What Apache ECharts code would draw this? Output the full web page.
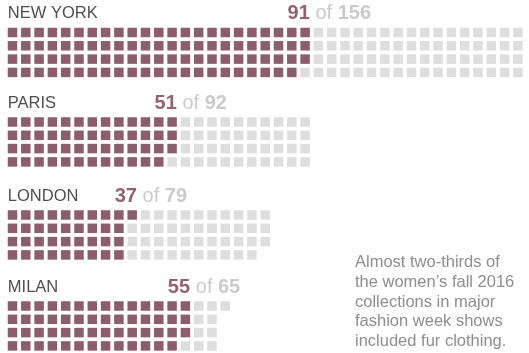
<!DOCTYPE html>
<html>
<head>
<meta charset="utf-8">
<script src="https://cdn.jsdelivr.net/npm/echarts@6/dist/echarts.min.js"></script>
<style>
  html, body { margin: 0; padding: 0; background: #fff; }
  #main { width: 529px; height: 353px; }
</style>
</head>
<body>
<div id="main"></div>
<script>
// data
var cities = ['NEW YORK', 'PARIS', 'LONDON', 'MILAN'];
var withFur = [91, 51, 37, 55];
var totals = [156, 92, 79, 65];
var note = ['Almost two-thirds of', 'the women\u2019s fall 2016', 'collections in major', 'fashion week shows', 'included fur clothing.'];

// layout
var P = 13.3;      // square pitch
var S = 9.5;       // square size
var ROWS = 4;
var row0 = [32.5, 122, 215, 306];   // centre of first row of each block
var font = 'Liberation Sans, Arial, Helvetica, sans-serif';

var dark = '#6f3646';
var light = '#d6d6d6';

var myChart = echarts.init(document.getElementById('main'));

var grids = [], xAxes = [], yAxes = [], series = [];

cities.forEach(function (city, k) {
  var yMin = -2, yMax = 3.5;
  grids.push({
    left: 12.5 - P / 2,
    top: row0[k] - (0 - yMin) * P,
    width: 39 * P,
    height: (yMax - yMin) * P
  });
  xAxes.push({ type: 'value', gridIndex: k, min: -0.5, max: 38.5, show: false });
  yAxes.push({ type: 'value', gridIndex: k, min: yMin, max: yMax, inverse: true, show: false });

  // fill column by column, top to bottom
  var on = [], off = [];
  for (var i = 0; i < totals[k]; i++) {
    var p = [Math.floor(i / ROWS), i % ROWS];
    if (i < withFur[k]) on.push(p); else off.push(p);
  }
  series.push({
    type: 'scatter', xAxisIndex: k, yAxisIndex: k,
    symbol: 'rect', symbolSize: S, silent: true,
    itemStyle: { color: dark },
    data: on
  });
  series.push({
    type: 'scatter', xAxisIndex: k, yAxisIndex: k,
    symbol: 'rect', symbolSize: S, silent: true,
    itemStyle: { color: light },
    data: off
  });

  var edge = Math.ceil(withFur[k] / ROWS) - 1 + (S / 2) / P;
  var labY = -1.42;
  series.push({
    type: 'scatter', xAxisIndex: k, yAxisIndex: k,
    symbolSize: 0.1, silent: true, clip: false,
    itemStyle: { color: 'transparent' },
    data: [
      { value: [-(S / 2) / P, labY], label: { show: true, position: 'right', distance: 0, formatter: city,
          color: '#222', fontSize: 16.5, fontFamily: font } },
      { value: [edge, labY], label: { show: true, position: 'left', distance: 0, formatter: String(withFur[k]),
          color: '#7a3a4b', fontSize: 20, fontWeight: 'bold', fontFamily: font } },
      { value: [edge, labY], label: { show: true, position: 'right', distance: 0,
          formatter: '{o| of }{n|' + totals[k] + '}',
          rich: {
            o: { color: '#bdbdbd', fontSize: 20, fontFamily: font },
            n: { color: '#bdbdbd', fontSize: 20, fontWeight: 'bold', fontFamily: font }
          } } }
    ]
  });
});

var option = {
  animation: false,
  grid: grids,
  xAxis: xAxes,
  yAxis: yAxes,
  series: series,
  graphic: [{
    type: 'text',
    left: 355,
    top: 253,
    style: {
      text: note.join('\n'),
      fill: '#8e8e8e',
      font: '16.5px ' + font,
      lineHeight: 19.6
    }
  }]
};

myChart.setOption(option);
</script>
</body>
</html>
